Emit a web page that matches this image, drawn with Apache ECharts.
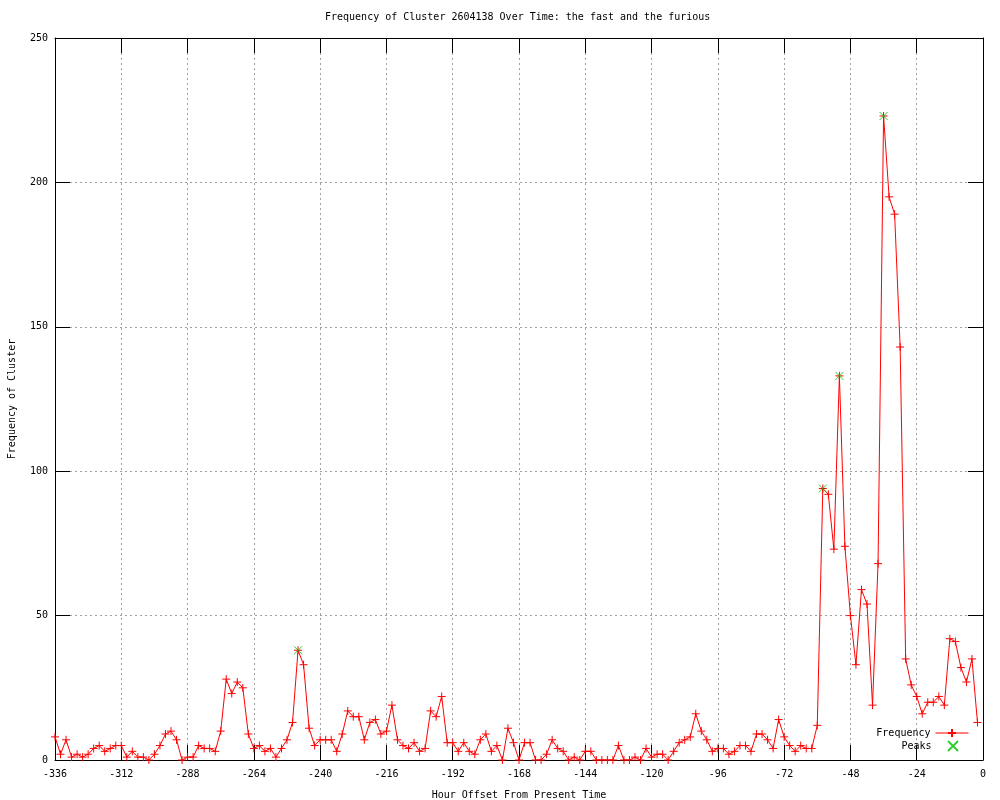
<!DOCTYPE html>
<html>
<head>
<meta charset="utf-8">
<script src="https://cdn.jsdelivr.net/npm/echarts@6/dist/echarts.min.js"></script>
<style>
html,body{margin:0;padding:0;background:#fff;}
#chart{width:1000px;height:800px;}
</style>
</head>
<body>
<div id="chart"></div>
<script>
// Hour offsets: every 2 hours from -336 to -2
const startHour = -336;
const stepHours = 2;
// Frequency values (one per 2-hour bin)
const frequency = [
  8, 2, 7, 1, 2, 1, 2, 4, 5, 3, 4, 5, 5, 1, 3, 1, 1, 0, 2, 5,
  9, 10, 7, 0, 1, 1, 5, 4, 4, 3, 10, 28, 23, 27, 25, 9, 4, 5, 3, 4,
  1, 4, 7, 13, 38, 33, 11, 5, 7, 7, 7, 3, 9, 17, 15, 15, 7, 13, 14, 9,
  10, 19, 7, 5, 4, 6, 3, 4, 17, 15, 22, 6, 6, 3, 6, 3, 2, 7, 9, 3,
  5, 0, 11, 6, 0, 6, 6, 0, 0, 2, 7, 4, 3, 0, 1, 0, 3, 3, 0, 0,
  0, 0, 5, 0, 0, 1, 0, 4, 1, 2, 2, 0, 3, 6, 7, 8, 16, 10, 7, 3,
  4, 4, 2, 3, 5, 5, 3, 9, 9, 7, 4, 14, 8, 5, 3, 5, 4, 4, 12, 94,
  92, 73, 133, 74, 50, 33, 59, 54, 19, 68, 223, 195, 189, 143, 35, 26, 22, 16, 20, 20,
  22, 19, 42, 41, 32, 27, 35, 13
];
const hours = frequency.map((_, i) => startHour + i * stepHours);
// Peaks
const peakHours = [-248, -58, -52, -36];
const peakValues = [38, 94, 133, 223];

const xTicks = { min: -336, max: 0, interval: 24 };
const yTicks = { min: 0, max: 250, interval: 50 };

const FONT = '"DejaVu Sans Mono", monospace';
const plusPath = 'path://M0,4L8,4M4,0L4,8';
const crossPath = 'path://M0,0L8,8M8,0L0,8';

const chart = echarts.init(document.getElementById('chart'), null, {renderer: 'canvas'});

const tickStyle = {show: true, inside: true, length: 15, lineStyle: {color: '#000', width: 1}};
const gridLine = {show: true, lineStyle: {color: '#a0a0a0', width: 1, type: [2, 3]}};

chart.setOption({
  animation: false,
  backgroundColor: '#fff',
  title: {
    text: 'Frequency of Cluster 2604138 Over Time: the fast and the furious',
    left: 325, top: 12, padding: 0,
    textStyle: {fontFamily: FONT, fontSize: 10, fontWeight: 'normal', color: '#000'}
  },
  legend: [
    {
      data: ['Frequency'], right: 31, top: 728, padding: 0, align: 'right',
      itemWidth: 33, itemHeight: 10,
      lineStyle: {width: 1},
      textStyle: {fontFamily: FONT, fontSize: 10, color: '#000'}
    },
    {
      data: ['Peaks'], right: 41, top: 740, padding: 0, align: 'right',
      itemWidth: 33, itemHeight: 10,
      textStyle: {fontFamily: FONT, fontSize: 10, color: '#000'}
    }
  ],
  grid: {left: 55, right: 17, top: 38, bottom: 40, show: false, containLabel: false, outerBoundsMode: 'none'},
  xAxis: [
    {
      type: 'value', position: 'bottom', min: xTicks.min, max: xTicks.max, interval: xTicks.interval,
      name: 'Hour Offset From Present Time', nameLocation: 'middle', nameGap: 30,
      nameTextStyle: {fontFamily: FONT, fontSize: 10, color: '#000'},
      axisLine: {show: true, onZero: false, lineStyle: {color: '#000', width: 1}},
      axisTick: tickStyle,
      axisLabel: {fontFamily: FONT, fontSize: 10, color: '#000', margin: 9},
      splitLine: gridLine
    },
    {
      type: 'value', position: 'top', min: xTicks.min, max: xTicks.max, interval: xTicks.interval,
      axisLine: {show: true, onZero: false, lineStyle: {color: '#000', width: 1}},
      axisTick: tickStyle,
      axisLabel: {show: false},
      splitLine: {show: false}
    }
  ],
  yAxis: [
    {
      type: 'value', position: 'left', min: yTicks.min, max: yTicks.max, interval: yTicks.interval,
      name: 'Frequency of Cluster', nameLocation: 'middle', nameGap: 38,
      nameTextStyle: {fontFamily: FONT, fontSize: 10, color: '#000'},
      axisLine: {show: true, onZero: false, lineStyle: {color: '#000', width: 1}},
      axisTick: tickStyle,
      axisLabel: {fontFamily: FONT, fontSize: 10, color: '#000', margin: 7},
      splitLine: gridLine
    },
    {
      type: 'value', position: 'right', min: yTicks.min, max: yTicks.max, interval: yTicks.interval,
      axisLine: {show: true, onZero: false, lineStyle: {color: '#000', width: 1}},
      axisTick: tickStyle,
      axisLabel: {show: false},
      splitLine: {show: false}
    }
  ],
  series: [
    {
      name: 'Frequency', type: 'line',
      data: hours.map((h, i) => [h, frequency[i]]),
      color: '#ff0000',
      symbol: plusPath, symbolSize: 8, showAllSymbol: true,
      itemStyle: {color: '#ff0000', borderColor: '#ff0000', borderWidth: 1},
      lineStyle: {color: '#ff0000', width: 1},
      z: 2
    },
    {
      name: 'Peaks', type: 'scatter',
      data: peakHours.map((h, i) => [h, peakValues[i]]),
      color: '#00c000',
      symbol: crossPath, symbolSize: 8,
      itemStyle: {color: '#00c000', borderColor: '#00c000', borderWidth: 1},
      z: 3
    }
  ]
});
</script>
</body>
</html>
